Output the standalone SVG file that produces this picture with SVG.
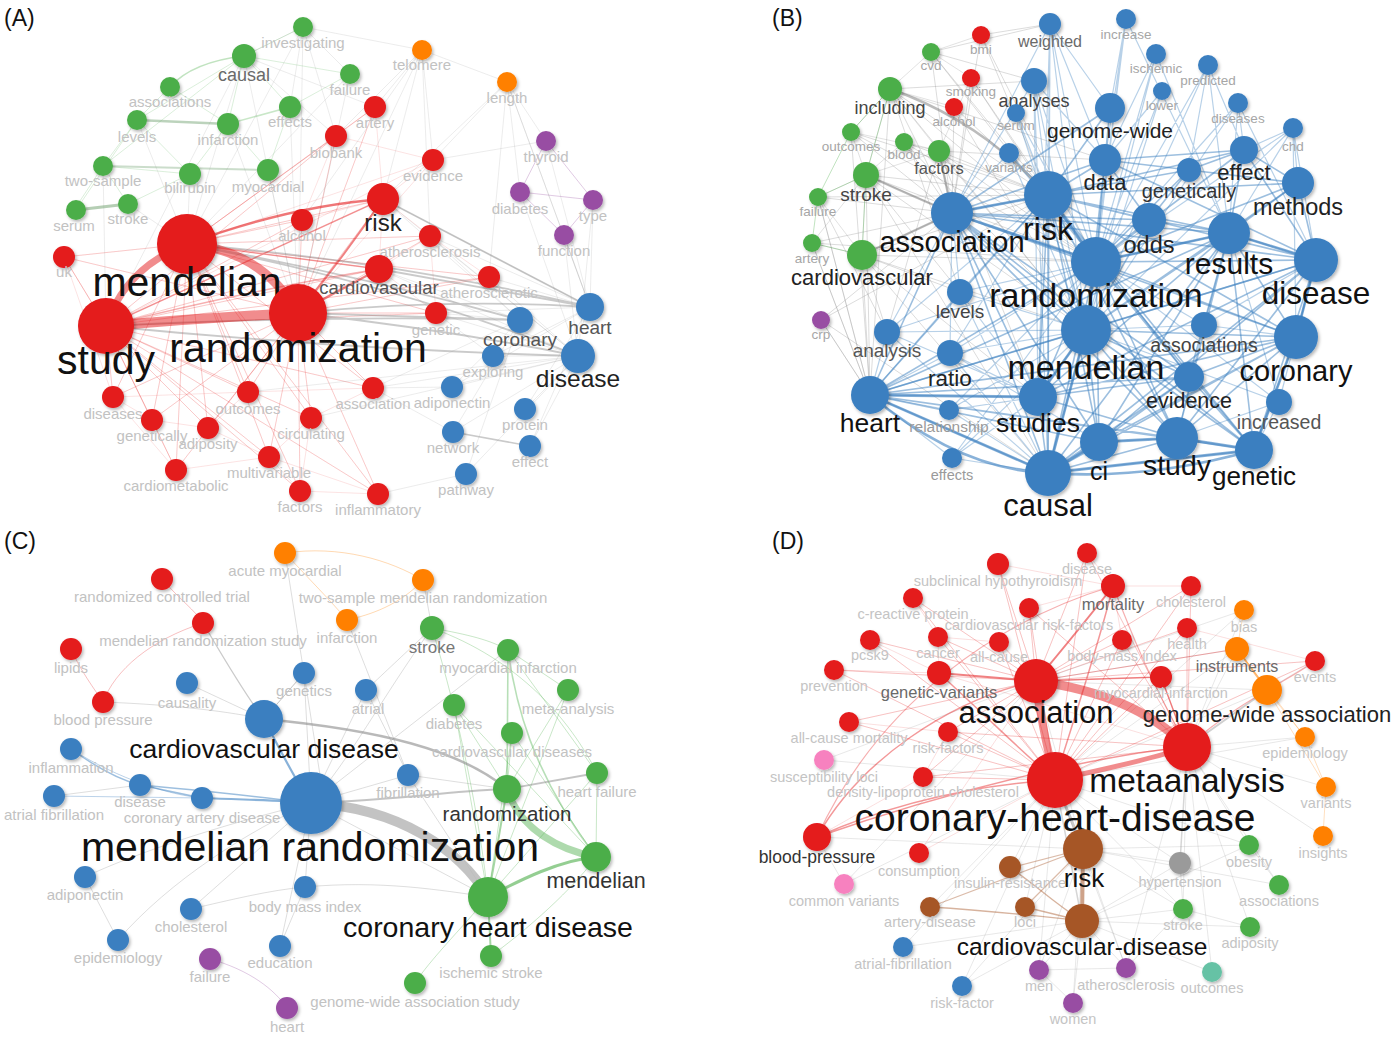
<svg xmlns="http://www.w3.org/2000/svg" width="1400" height="1039" viewBox="0 0 1400 1039">
<defs>
<filter id="sh" x="-40%" y="-40%" width="180%" height="180%"><feDropShadow dx="1.5" dy="2" stdDeviation="1.6" flood-color="#000" flood-opacity="0.28"/></filter>
</defs>
<style>
text{font-family:"Liberation Sans",Arial,Helvetica,sans-serif;text-anchor:middle}
circle{filter:url(#sh)}
.nr{fill:#e41a1c}.ng{fill:#4cae4a}.nb{fill:#3b7fc0}.no{fill:#ff8000}.np{fill:#984ea3}.nn{fill:#a65628}.nk{fill:#f781bf}.ny{fill:#9a9a9a}.nt{fill:#66c2a5}
.s{font-size:15px;fill:#c2c2c2}
.sb{font-size:13.5px;fill:#a6a6a6}
.sd{font-size:14.5px;fill:#c4c4c4}
.m{fill:#6a6a6a}
.k{fill:#111}
.pl{font-size:23px;fill:#111;text-anchor:start}
.fr{stroke:#e41a1c;stroke-opacity:.12;stroke-width:1}
.fa{stroke:#8a8a8a;stroke-opacity:.16;stroke-width:1}
.fg{stroke:#4cae4a;stroke-opacity:.2;stroke-width:1}
.fb{stroke:#3b7fc0;stroke-opacity:.5;stroke-width:1.6}
.fbl{stroke:#3b7fc0;stroke-opacity:.36;stroke-width:1.2}
.fo{stroke:#ff8000;stroke-opacity:.25;stroke-width:1}
.fp{stroke:#984ea3;stroke-opacity:.3;stroke-width:1}
.fn{stroke:#a65628;stroke-opacity:.4;stroke-width:1.2}
</style>
<rect width="1400" height="1039" fill="#fff"/>
<text class="pl" x="4" y="26">(A)</text>
<text class="pl" x="772" y="26">(B)</text>
<text class="pl" x="4" y="549">(C)</text>
<text class="pl" x="772" y="549">(D)</text>
<g id="connectors" fill="none" stroke-linecap="round" stroke-linejoin="round">
<g id="A-edges">
<path class="fr" d="M187,244L383,199L187,244L302,220L187,244L430,236L187,244L64,257L187,244L379,269L187,244L489,277L187,244L436,313L187,244L113,397L187,244L248,392L187,244L373,388L187,244L152,420L187,244L208,428L187,244L311,418L187,244L269,457L187,244L176,470L187,244L300,491L187,244L378,494L187,244L375,107L187,244L336,136L187,244L433,160"/>
<path class="fr" d="M106,326L383,199L106,326L302,220L106,326L430,236L106,326L64,257L106,326L379,269L106,326L489,277L106,326L436,313L106,326L113,397L106,326L248,392L106,326L373,388L106,326L152,420L106,326L208,428L106,326L311,418L106,326L269,457L106,326L176,470L106,326L300,491L106,326L378,494L106,326L336,136L106,326L433,160"/>
<path class="fr" d="M298,313L383,199L298,313L302,220L298,313L430,236L298,313L64,257L298,313L489,277L298,313L436,313L298,313L113,397L298,313L248,392L298,313L373,388L298,313L152,420L298,313L208,428L298,313L311,418L298,313L269,457L298,313L176,470L298,313L300,491L298,313L378,494L298,313L375,107L298,313L336,136L298,313L433,160"/>
<path class="fr" d="M113,397L152,420L176,470L269,457L300,491L378,494L269,457L311,418L373,388L248,392L113,397L176,470M152,420L208,428L248,392M208,428L269,457M302,220L383,199L375,107L336,136L302,220M383,199L433,160L336,136M383,199L430,236L379,269L383,199M64,257L113,397M64,257L106,326M311,418L300,491M379,269L436,313L430,236L489,277"/>
<path class="fa" d="M578,356L383,199M578,356L379,269M578,356L436,313M578,356L373,388M578,356L311,418M578,356L248,392M578,356L493,356M578,356L452,387M578,356L525,409M578,356L453,432M578,356L530,446M578,356L466,474M578,356L489,277M578,356L430,236M578,356L564,235M578,356L520,192M578,356L593,200M590,307L383,199M590,307L430,236M590,307L489,277M590,307L436,313M590,307L493,356M590,307L452,387M590,307L525,409M590,307L530,446M590,307L564,235M590,307L593,200M590,307L546,141M590,307L507,82M520,320L383,199M520,320L436,313M520,320L373,388M520,320L452,387M520,320L453,432M520,320L466,474M520,320L430,236M520,320L379,269"/>
<path class="fa" d="M422,50L375,107M422,50L336,136M422,50L433,160M422,50L383,199M422,50L298,313M422,50L430,236M422,50L302,220M507,82L433,160M507,82L383,199M507,82L546,141M507,82L520,192M507,82L489,277M507,82L590,307M546,141L433,160M303,27L244,56M303,27L350,74M303,27L290,107M303,27L336,136M303,27L187,244M303,27L298,313M303,27L422,50M244,56L187,244M244,56L298,313M244,56L336,136M244,56L375,107M244,56L106,326M350,74L298,313M350,74L187,244M422,50L507,82M290,107L298,313M228,124L298,313M268,170L298,313M190,174L187,244M128,204L187,244M137,120L187,244M103,166L106,326M452,387L373,388M493,356L436,313M466,474L378,494M453,432L373,388"/>
<path class="fp" d="M520,192L593,200L564,235L520,192L546,141M593,200L546,141"/>
<path class="fg" d="M244,56L137,120M244,56L228,124M244,56L103,166M137,120L103,166M103,166L190,174M228,124L190,174M170,87L137,120M290,107L268,170M128,204L103,166M74,210L103,166M128,204L190,174M303,27L244,56M350,74L244,56M350,74L290,107M170,87L228,124M244,56L290,107M228,124L268,170M137,120L190,174M76,210L137,120"/>
<path d="M137,120L228,124" stroke="#6b9e6a" stroke-opacity=".45" stroke-width="2.5"/>
<path d="M103,166L268,170" stroke="#6b9e6a" stroke-opacity=".35" stroke-width="2"/>
<path d="M76,210L128,204" stroke="#6b9e6a" stroke-opacity=".5" stroke-width="3"/>
<path d="M244,56Q192,62 170,87" stroke="#4cae4a" stroke-opacity=".35" stroke-width="1.5"/>
<path d="M228,124L290,107" stroke="#4cae4a" stroke-opacity=".3" stroke-width="1.5"/>
<path d="M187,244Q400,262 590,307M187,244Q400,285 578,356M187,244Q360,275 520,320M298,313Q450,298 590,307M298,313Q450,330 578,356M298,313L520,320M106,326Q350,350 578,356M106,326Q320,315 520,320M379,269L590,307M383,199L590,307" stroke="#7a7a7a" stroke-opacity=".4" stroke-width="1.8"/>
<path d="M453,432L530,446" stroke="#8a8a8a" stroke-opacity=".45" stroke-width="1.5"/>
<path d="M187,244Q290,206 383,199" stroke="#e41a1c" stroke-opacity=".6" stroke-width="2.5"/>
<path d="M298,313Q345,255 383,199" stroke="#e41a1c" stroke-opacity=".55" stroke-width="2"/>
<path d="M106,326Q250,260 383,199M106,326Q250,290 379,269M187,244L379,269" stroke="#e41a1c" stroke-opacity=".35" stroke-width="1.5"/>
<path d="M298,313L379,269" stroke="#e41a1c" stroke-opacity=".55" stroke-width="2"/>
<path d="M187,244Q262,250 298,313" stroke="#e41a1c" stroke-opacity=".5" stroke-width="9"/>
<path d="M187,244Q125,268 106,326" stroke="#e41a1c" stroke-opacity=".5" stroke-width="7"/>
<path d="M106,326Q200,318 298,313" stroke="#e41a1c" stroke-opacity=".5" stroke-width="10"/>
</g>
<g id="B-edges">
<path class="fa" style="stroke-opacity:.3" d="M890,89L1048,195M890,89L952,213M890,89L1096,262M890,89L1086,330M890,89L1034,81M890,89L870,395M931,52L1048,195M931,52L952,213M931,52L1096,262M931,52L1034,81M851,132L952,213M851,132L1048,195M851,132L1096,262M851,132L870,395M904,142L952,213M904,142L1048,195M904,142L1096,262M904,142L1086,330M939,151L952,213M939,151L1048,195M939,151L1096,262M939,151L1086,330M939,151L1038,397M866,175L952,213M866,175L1048,195M866,175L1096,262M866,175L1086,330M866,175L870,395M866,175L1048,473M818,197L952,213M818,197L1048,195M818,197L870,395M812,243L952,213M812,243L1096,262M812,243L870,395M862,255L952,213M862,255L1048,195M862,255L1096,262M862,255L1086,330M862,255L870,395M862,255L1038,397M862,255L1048,473M981,35L1048,195M981,35L952,213M981,35L1096,262M971,78L1048,195M971,78L952,213M971,78L1096,262M954,107L952,213M954,107L1048,195M954,107L1086,330M821,320L870,395M821,320L952,213M821,320L1048,195M821,320L1048,473M890,89L960,292M866,175L960,292M862,255L887,332M862,255L960,292M939,151L887,332M818,197L887,332M931,52L1050,24M981,35L1050,24M890,89L1105,160M939,151L1105,160"/>
<path class="fa" style="stroke-opacity:.25" d="M890,89L866,175L862,255M890,89L939,151L866,175M931,52L890,89L851,132L866,175M904,142L866,175M818,197L862,255L812,243L866,175M818,197L866,175M931,52L981,35M931,52L971,78M890,89L954,107M821,320L870,395M812,243L870,395M818,197L870,395M851,132L939,151M904,142L939,151M971,78L939,151"/>
<path d="M866,175Q910,195 952,213M862,255Q905,235 952,213M939,151L952,213M890,89Q980,120 1048,195" stroke="#7a7a7a" stroke-opacity=".5" stroke-width="2.4"/>
<path class="fg" style="stroke-opacity:.35" d="M890,89L851,132M890,89L866,175M818,197L866,175M812,243L862,255M866,175L862,255M851,132L818,197M818,197L812,243"/>
<path class="fb" d="M1048,195L952,213L1048,195L1096,262L1048,195L1086,330L1048,195L1229,233L1048,195L1316,260L1048,195L1296,337L1048,195L1048,473L1048,195L870,395L1048,195L1038,397L1048,195L1099,442L1048,195L1177,438L1048,195L1254,450L1048,195L1105,160L1048,195L1149,220L1048,195L1298,183L1048,195L1244,150L1048,195L1189,170L1048,195L1189,377L1048,195L1110,108"/>
<path class="fb" d="M952,213L1096,262L952,213L1086,330L952,213L1229,233L952,213L1316,260L952,213L1296,337L952,213L1048,473L952,213L870,395L952,213L1038,397L952,213L1099,442L952,213L1177,438L952,213L1254,450L952,213L1105,160L952,213L1149,220L952,213L1189,377L952,213L1110,108"/>
<path class="fb" d="M1096,262L1086,330L1096,262L1229,233L1096,262L1316,260L1096,262L1296,337L1096,262L1048,473L1096,262L870,395L1096,262L1038,397L1096,262L1099,442L1096,262L1177,438L1096,262L1254,450L1096,262L1105,160L1096,262L1149,220L1096,262L1298,183L1096,262L1244,150L1096,262L1189,170L1096,262L1189,377"/>
<path class="fb" d="M1086,330L1229,233L1086,330L1316,260L1086,330L1296,337L1086,330L1048,473L1086,330L870,395L1086,330L1038,397L1086,330L1099,442L1086,330L1177,438L1086,330L1254,450L1086,330L1105,160L1086,330L1149,220L1086,330L1298,183L1086,330L1189,377"/>
<path class="fb" d="M1229,233L1316,260L1229,233L1296,337L1229,233L1048,473L1229,233L870,395L1229,233L1038,397L1229,233L1099,442L1229,233L1177,438L1229,233L1254,450L1229,233L1298,183L1229,233L1244,150L1229,233L1189,377"/>
<path class="fb" d="M1316,260L1296,337L1316,260L1048,473L1316,260L870,395L1316,260L1038,397L1316,260L1099,442L1316,260L1177,438L1316,260L1254,450L1316,260L1298,183L1316,260L1244,150L1316,260L1105,160"/>
<path class="fb" d="M1296,337L1048,473L1296,337L870,395L1296,337L1099,442L1296,337L1177,438L1296,337L1254,450L1296,337L1189,377L1296,337L1038,397M1048,473L870,395L1048,473L1038,397L1048,473L1099,442L1048,473L1177,438L1048,473L1254,450L1048,473L1189,377M870,395L1038,397L870,395L1099,442L870,395L1177,438L870,395L1254,450L870,395L1189,377M1177,438L1254,450L1177,438L1099,442L1177,438L1038,397"/>
<path class="fb" d="M1105,160L1149,220L1105,160L1189,170L1105,160L1244,150L1105,160L1110,108M1149,220L1229,233L1149,220L1189,170M1244,150L1298,183L1244,150L1189,170M1189,170L1298,183M1189,377L1254,450M1189,377L1099,442M1189,377L1038,397"/>
<path class="fbl" d="M1050,24L1048,195M1050,24L1096,262M1050,24L1086,330M1050,24L1105,160M1050,24L1110,108M1050,24L952,213M1050,24L1038,397M1050,24L1048,473M1126,19L1110,108M1126,19L1105,160M1126,19L1096,262M1126,19L1086,330M1126,19L1229,233M1156,54L1096,262M1156,54L1086,330M1156,54L1229,233M1156,54L1105,160M1208,65L1096,262M1208,65L1086,330M1208,65L1229,233M1208,65L1244,150M1208,65L1189,170M1034,81L1048,195M1034,81L1096,262M1034,81L1086,330M1034,81L952,213M1034,81L1105,160M1034,81L1048,473M1034,81L1038,397M1162,91L1096,262M1162,91L1086,330M1162,91L1105,160M1016,113L1048,195M1016,113L1096,262M1016,113L1086,330M1238,103L1096,262M1238,103L1086,330M1238,103L1229,233M1238,103L1316,260M1238,103L1244,150M1009,153L1048,195M1009,153L1096,262M1009,153L1086,330M1009,153L952,213M1293,128L1229,233M1293,128L1316,260M1293,128L1298,183M1293,128L1244,150M1293,128L1096,262M1293,128L1086,330M1293,128L1296,337"/>
<path class="fbl" d="M960,292L952,213M960,292L1048,195M960,292L1096,262M960,292L1086,330M960,292L1038,397M960,292L870,395M960,292L1048,473M887,332L952,213M887,332L1048,195M887,332L1096,262M887,332L1086,330M887,332L870,395M887,332L1038,397M887,332L1048,473M1204,325L1096,262M1204,325L1086,330M1204,325L1229,233M1204,325L1316,260M1204,325L1296,337M1204,325L1177,438M950,353L952,213M950,353L1048,195M950,353L1096,262M950,353L1086,330M950,353L870,395M950,353L1038,397M950,353L1048,473M950,353L1099,442M949,410L870,395M949,410L1038,397M949,410L1048,473M949,410L1086,330M949,410L1096,262M1279,402L1316,260M1279,402L1296,337M1279,402L1254,450M1279,402L1177,438M1279,402L1229,233M1279,402L1086,330M1279,402L1096,262M952,458L870,395M952,458L1038,397M952,458L1048,473M952,458L1086,330M952,458L1096,262M870,395L952,458L1048,473"/>
<path d="M1048,195L1096,262M1048,195L952,213M1096,262L1086,330M1086,330L1038,397M1086,330L1048,473M1096,262L1229,233M1229,233L1316,260M1316,260L1296,337M1048,473L1099,442M1099,442L1177,438M1177,438L1254,450M870,395L1048,473M870,395L1038,397M952,213L1096,262M1296,337L1254,450M1048,473L1254,450M870,395Q960,470 1048,473M1048,473Q1150,480 1254,450" stroke="#3b7fc0" stroke-opacity=".6" stroke-width="2.8"/>
</g>
<g id="C-edges">
<path d="M162,579C180,600 195,610 203,623M203,623C150,640 115,670 103,702M71,649C80,670 95,690 103,702" stroke="#e41a1c" stroke-opacity=".28" stroke-width="1"/>
<path d="M285,553C340,545 390,560 423,580M285,553C310,580 330,600 347,620M423,580C400,605 370,615 347,620" stroke="#ff8000" stroke-opacity=".3" stroke-width="1"/>
<path class="fa" style="stroke-opacity:.28" d="M285,553L320,775M347,620L408,775M423,580L432,628M432,628L366,690M432,628C380,700 350,760 311,803M408,775L311,803M408,775L507,789M187,683L264,719M304,673L264,719M304,673L311,803M366,690L311,803M366,690L408,775M103,702C180,705 230,712 264,719M311,803C200,830 120,860 85,877M85,877L118,940M118,940C170,880 250,830 311,803M191,909L311,803M191,909C230,900 270,890 305,887M305,887L311,803M305,887C380,880 440,890 488,897M280,946L305,887M280,946L311,803M488,897L408,775M488,897L311,803M311,803L507,650M264,719L304,673M54,796L140,785"/>
<path d="M203,623C225,660 245,695 264,719" stroke="#8a8a8a" stroke-opacity=".45" stroke-width="1.3"/>
<path class="fg" style="stroke-opacity:.3" d="M432,628C470,635 490,640 508,650M432,628C460,720 480,820 488,897M432,628C520,660 570,720 597,773M508,650L568,690M508,650L597,773M568,690L507,789M568,690L488,897M454,705L488,897M454,705L507,789M512,733L507,789M512,733L596,857M597,773L596,857M597,773L488,897M488,897C460,930 430,960 415,983M491,956C540,920 580,880 596,857M454,705L596,857M512,733L488,897"/>
<path d="M508,650L507,789M508,650C515,700 530,770 596,857" stroke="#4cae4a" stroke-opacity=".4" stroke-width="1.6"/>
<path d="M210,959C250,970 275,990 287,1008" stroke="#984ea3" stroke-opacity=".3" stroke-width="1"/>
<path d="M71,749C120,780 170,795 202,798M54,796L202,798" stroke="#3b7fc0" stroke-opacity=".35" stroke-width="1"/>
<path d="M71,749C100,770 120,780 140,785M140,785C200,790 260,797 311,803M140,785L202,798" stroke="#3b7fc0" stroke-opacity=".5" stroke-width="1.5"/>
<path d="M202,798C250,800 280,800 311,803M264,719C280,750 295,780 311,803" stroke="#3b7fc0" stroke-opacity=".6" stroke-width="2.2"/>
<path d="M264,719C380,730 460,750 507,789" stroke="#8a8a8a" stroke-opacity=".6" stroke-width="2.5"/>
<path d="M311,803C400,800 460,790 507,789M507,789L597,773" stroke="#8a8a8a" stroke-opacity=".5" stroke-width="1.8"/>
<path d="M311,803C400,808 460,850 488,897" stroke="#b8b8b8" stroke-opacity=".85" stroke-width="10"/>
<path d="M488,897L491,956" stroke="#4cae4a" stroke-opacity=".5" stroke-width="2"/>
<path d="M507,789C500,830 495,860 488,897" stroke="#4cae4a" stroke-opacity=".5" stroke-width="2"/>
<path d="M596,857C560,860 520,880 488,897" stroke="#4cae4a" stroke-opacity=".6" stroke-width="3"/>
<path d="M507,789C520,830 560,850 596,857" stroke="#4cae4a" stroke-opacity=".45" stroke-width="7"/>
</g>
<g id="D-edges">
<path class="fr" style="stroke-opacity:.14" d="M1036,681L1087,553L1036,681L998,564L1036,681L1191,586L1036,681L913,598L1036,681L1029,608L1036,681L870,640L1036,681L938,637L1036,681L999,642L1036,681L1122,640L1036,681L1187,628L1036,681L1315,661L1036,681L834,670L1036,681L1161,677L1036,681L849,722L1036,681L948,732L1036,681L923,777L1036,681L919,853"/>
<path class="fr" style="stroke-opacity:.14" d="M1055,780L1087,553L1055,780L998,564L1055,780L1191,586L1055,780L913,598L1055,780L1029,608L1055,780L870,640L1055,780L938,637L1055,780L999,642L1055,780L1122,640L1055,780L1187,628L1055,780L1315,661L1055,780L834,670L1055,780L1161,677L1055,780L849,722L1055,780L948,732L1055,780L923,777L1055,780L919,853"/>
<path class="fr" style="stroke-opacity:.14" d="M1187,747L1087,553L1187,747L1191,586L1187,747L1029,608L1187,747L1122,640L1187,747L1187,628L1187,747L1161,677L1187,747L948,732L1187,747L923,777L1187,747L939,673M913,598L938,637L939,673L870,640M834,670L939,673M998,564L1113,586L1087,553M1191,586L1113,586L1029,608M938,637L999,642M1113,586L1122,640M849,722L948,732M923,777L817,837M948,732L923,777M1187,628L1315,661"/>
<path class="fa" style="stroke-opacity:.2" d="M1055,780L1244,610M1055,780L1237,649M1055,780L1267,690M1055,780L1305,737M1055,780L1249,845M1055,780L1180,863M1055,780L1183,909M1055,780L1126,968M1055,780L1039,970M1055,780L962,986M1055,780L903,947M1055,780L844,884M1055,780L824,760M1055,780L930,907M1055,780L1025,907M1055,780L1010,868M1187,747L1244,610M1187,747L1237,649M1187,747L1305,737M1187,747L1326,787M1187,747L1323,836M1187,747L1249,845M1187,747L1279,885M1187,747L1183,909M1187,747L1250,927M1187,747L1212,972M1187,747L1126,968M1082,921L1183,909M1082,921L1180,863M1082,921L1250,927M1082,921L1212,972M1082,921L1126,968M1082,921L1039,970M1082,921L1073,1003M1082,921L903,947M1082,921L1249,845M1083,849L1180,863M1083,849L1183,909M1083,849L1279,885M1083,849L1249,845M1083,849L1039,970M1083,849L1126,968M1083,849L962,986M1036,681L1267,690M1036,681L1237,649M1036,681L1244,610M1036,681L824,760M1036,681L844,884M1036,681L1083,849M817,837L844,884M817,837L1083,849M1267,690L1315,661M1180,863L1183,909M1183,909L1250,927M1279,885L1249,845M1183,909L1126,968M1039,970L1073,1003M1126,968L1039,970M1083,849L1073,1003M962,986L1082,921"/>
<path class="fo" d="M1244,610L1237,649M1267,690L1305,737M1305,737L1326,787M1326,787L1323,836M1267,690L1326,787M1237,649L1305,737"/>
<path class="fn" d="M1083,849L1025,907M1083,849L930,907M1083,849L1010,868"/>
<path d="M1082,921C1030,915 980,910 930,907M1082,921L1025,907M1082,921C1050,900 1030,880 1010,868" stroke="#a65628" stroke-opacity=".45" stroke-width="1.3"/>
<path d="M1187,747L1180,863M1055,780L1082,921" stroke="#8a8a8a" stroke-opacity=".35" stroke-width="1.5"/>
<path d="M1187,747L1267,690" stroke="#8a8a8a" stroke-opacity=".4" stroke-width="2"/>
<path d="M1237,649L1267,690" stroke="#ff8000" stroke-opacity=".55" stroke-width="2"/>
<path d="M817,837C880,700 1000,620 1113,586M1187,747C1150,680 1130,630 1113,586M1187,747C1240,700 1290,680 1315,661M1036,681L1237,649" stroke="#e41a1c" stroke-opacity=".35" stroke-width="1.2"/>
<path d="M817,837C900,800 980,785 1055,780M817,837C860,760 950,700 1036,681M817,837C950,790 1100,755 1187,747M939,673C990,720 1020,750 1055,780M1055,780C1080,700 1100,640 1113,586M1036,681L1161,677M1187,747L1161,677" stroke="#e41a1c" stroke-opacity=".45" stroke-width="1.5"/>
<path d="M939,673L1036,681M1036,681C1070,640 1095,610 1113,586" stroke="#e41a1c" stroke-opacity=".55" stroke-width="2"/>
<path d="M1055,780L1083,849" stroke="#8a8a8a" stroke-opacity=".45" stroke-width="3"/>
<path d="M1083,849L1082,921" stroke="#a65628" stroke-opacity=".55" stroke-width="4"/>
<path d="M1055,780C1100,770 1150,760 1187,747" stroke="#e41a1c" stroke-opacity=".5" stroke-width="5"/>
<path d="M1036,681C1040,720 1048,750 1055,780" stroke="#e41a1c" stroke-opacity=".5" stroke-width="8"/>
<path d="M1036,681C1100,690 1150,710 1187,747" stroke="#e41a1c" stroke-opacity=".5" stroke-width="9"/>
</g>
</g>
<g id="A-nodes">
<g id="A-investigating"><circle class="ng" cx="303" cy="27" r="10"/><text class="s" x="303" y="48">investigating</text></g>
<g id="A-causal"><circle class="ng" cx="244" cy="56" r="12"/><text class="m" font-size="18" x="244" y="81">causal</text></g>
<g id="A-telomere"><circle class="no" cx="422" cy="50" r="10"/><text class="s" x="422" y="70">telomere</text></g>
<g id="A-failure"><circle class="ng" cx="350" cy="74" r="10"/><text class="s" x="350" y="95">failure</text></g>
<g id="A-length"><circle class="no" cx="507" cy="82" r="10"/><text class="s" x="507" y="103">length</text></g>
<g id="A-associations"><circle class="ng" cx="170" cy="87" r="10"/><text class="s" x="170" y="107">associations</text></g>
<g id="A-effects"><circle class="ng" cx="290" cy="107" r="11"/><text class="s" x="290" y="127">effects</text></g>
<g id="A-artery"><circle class="nr" cx="375" cy="107" r="11"/><text class="s" x="375" y="128">artery</text></g>
<g id="A-levels"><circle class="ng" cx="137" cy="120" r="10"/><text class="s" x="137" y="142">levels</text></g>
<g id="A-infarction"><circle class="ng" cx="228" cy="124" r="11"/><text class="s" x="228" y="145">infarction</text></g>
<g id="A-biobank"><circle class="nr" cx="336" cy="136" r="11"/><text class="s" x="336" y="158">biobank</text></g>
<g id="A-thyroid"><circle class="np" cx="546" cy="141" r="10"/><text class="s" x="546" y="162">thyroid</text></g>
<g id="A-evidence"><circle class="nr" cx="433" cy="160" r="11"/><text class="s" x="433" y="181">evidence</text></g>
<g id="A-two-sample"><circle class="ng" cx="103" cy="166" r="10"/><text class="s" x="103" y="186">two-sample</text></g>
<g id="A-bilirubin"><circle class="ng" cx="190" cy="174" r="11"/><text class="s" x="190" y="193">bilirubin</text></g>
<g id="A-myocardial"><circle class="ng" cx="268" cy="170" r="11"/><text class="s" x="268" y="192">myocardial</text></g>
<g id="A-diabetes"><circle class="np" cx="520" cy="192" r="10"/><text class="s" x="520" y="214">diabetes</text></g>
<g id="A-type"><circle class="np" cx="593" cy="200" r="10"/><text class="s" x="593" y="221">type</text></g>
<g id="A-serum"><circle class="ng" cx="76" cy="210" r="10"/><text class="s" x="74" y="231">serum</text></g>
<g id="A-stroke"><circle class="ng" cx="128" cy="204" r="10"/><text class="s" x="128" y="224">stroke</text></g>
<g id="A-risk"><circle class="nr" cx="383" cy="199" r="16"/><text fill="#222" font-size="24" x="383" y="231">risk</text></g>
<g id="A-alcohol"><circle class="nr" cx="302" cy="220" r="11"/><text class="s" x="302" y="241">alcohol</text></g>
<g id="A-function"><circle class="np" cx="564" cy="235" r="10"/><text class="s" x="564" y="256">function</text></g>
<g id="A-atherosclerosis"><circle class="nr" cx="430" cy="236" r="11"/><text class="s" x="430" y="257">atherosclerosis</text></g>
<g id="A-mendelian"><circle class="nr" cx="187" cy="244" r="30"/><text class="k" font-size="41" x="187" y="296">mendelian</text></g>
<g id="A-uk"><circle class="nr" cx="64" cy="257" r="11"/><text class="s" x="64" y="277">uk</text></g>
<g id="A-cardiovascular"><circle class="nr" cx="379" cy="269" r="14"/><text fill="#555" font-size="18.5" x="379" y="294">cardiovascular</text></g>
<g id="A-atherosclerotic"><circle class="nr" cx="489" cy="277" r="11"/><text class="s" x="489" y="298">atherosclerotic</text></g>
<g id="A-heart"><circle class="nb" cx="590" cy="307" r="14"/><text fill="#555" font-size="19" x="590" y="334">heart</text></g>
<g id="A-genetic"><circle class="nr" cx="436" cy="313" r="11"/><text class="s" x="436" y="335">genetic</text></g>
<g id="A-coronary"><circle class="nb" cx="520" cy="320" r="13"/><text fill="#555" font-size="19" x="520" y="346">coronary</text></g>
<g id="A-study"><circle class="nr" cx="106" cy="326" r="28"/><text class="k" font-size="41" x="106" y="374">study</text></g>
<g id="A-randomization"><circle class="nr" cx="298" cy="313" r="29"/><text class="k" font-size="41" x="298" y="362">randomization</text></g>
<g id="A-disease"><circle class="nb" cx="578" cy="356" r="17"/><text fill="#222" font-size="24.5" x="578" y="387">disease</text></g>
<g id="A-exploring"><circle class="nb" cx="493" cy="356" r="11"/><text class="s" x="493" y="377">exploring</text></g>
<g id="A-diseases"><circle class="nr" cx="113" cy="397" r="11"/><text class="s" x="113" y="419">diseases</text></g>
<g id="A-outcomes"><circle class="nr" cx="248" cy="392" r="11"/><text class="s" x="248" y="414">outcomes</text></g>
<g id="A-association"><circle class="nr" cx="373" cy="388" r="11"/><text class="s" x="373" y="409">association</text></g>
<g id="A-adiponectin"><circle class="nb" cx="452" cy="387" r="11"/><text class="s" x="452" y="408">adiponectin</text></g>
<g id="A-protein"><circle class="nb" cx="525" cy="409" r="11"/><text class="s" x="525" y="430">protein</text></g>
<g id="A-genetically"><circle class="nr" cx="152" cy="420" r="11"/><text class="s" x="152" y="441">genetically</text></g>
<g id="A-adiposity"><circle class="nr" cx="208" cy="428" r="11"/><text class="s" x="208" y="449">adiposity</text></g>
<g id="A-circulating"><circle class="nr" cx="311" cy="418" r="11"/><text class="s" x="311" y="439">circulating</text></g>
<g id="A-network"><circle class="nb" cx="453" cy="432" r="11"/><text class="s" x="453" y="453">network</text></g>
<g id="A-effect"><circle class="nb" cx="530" cy="446" r="11"/><text class="s" x="530" y="467">effect</text></g>
<g id="A-multivariable"><circle class="nr" cx="269" cy="457" r="11"/><text class="s" x="269" y="478">multivariable</text></g>
<g id="A-cardiometabolic"><circle class="nr" cx="176" cy="470" r="11"/><text class="s" x="176" y="491">cardiometabolic</text></g>
<g id="A-factors"><circle class="nr" cx="300" cy="491" r="11"/><text class="s" x="300" y="512">factors</text></g>
<g id="A-inflammatory"><circle class="nr" cx="378" cy="494" r="11"/><text class="s" x="378" y="515">inflammatory</text></g>
<g id="A-pathway"><circle class="nb" cx="466" cy="474" r="11"/><text class="s" x="466" y="495">pathway</text></g>
</g>
<g id="B-nodes">
<g id="B-weighted"><circle class="nb" cx="1050" cy="24" r="11"/><text class="m" font-size="16" x="1050" y="47">weighted</text></g>
<g id="B-increase"><circle class="nb" cx="1126" cy="19" r="10"/><text class="sb" x="1126" y="39">increase</text></g>
<g id="B-bmi"><circle class="nr" cx="981" cy="35" r="9"/><text class="sb" x="981" y="54">bmi</text></g>
<g id="B-cvd"><circle class="ng" cx="931" cy="52" r="9"/><text class="sb" x="931" y="70">cvd</text></g>
<g id="B-ischemic"><circle class="nb" cx="1156" cy="54" r="10"/><text class="sb" x="1156" y="73">ischemic</text></g>
<g id="B-predicted"><circle class="nb" cx="1208" cy="65" r="10"/><text class="sb" x="1208" y="85">predicted</text></g>
<g id="B-smoking"><circle class="nr" cx="971" cy="78" r="9"/><text class="sb" x="971" y="96">smoking</text></g>
<g id="B-analyses"><circle class="nb" cx="1034" cy="81" r="13"/><text fill="#444" font-size="18" x="1034" y="107">analyses</text></g>
<g id="B-lower"><circle class="nb" cx="1162" cy="91" r="9"/><text class="sb" x="1162" y="110">lower</text></g>
<g id="B-including"><circle class="ng" cx="890" cy="89" r="12"/><text fill="#444" font-size="18" x="890" y="114">including</text></g>
<g id="B-alcohol"><circle class="nr" cx="954" cy="107" r="9"/><text class="sb" x="954" y="126">alcohol</text></g>
<g id="B-serum"><circle class="nb" cx="1016" cy="113" r="9"/><text class="sb" x="1016" y="130">serum</text></g>
<g id="B-genome-wide"><circle class="nb" cx="1110" cy="108" r="15"/><text fill="#222" font-size="21" x="1110" y="138">genome-wide</text></g>
<g id="B-diseases"><circle class="nb" cx="1238" cy="103" r="10"/><text class="sb" x="1238" y="123">diseases</text></g>
<g id="B-outcomes"><circle class="ng" cx="851" cy="132" r="9"/><text class="sb" x="851" y="151">outcomes</text></g>
<g id="B-blood"><circle class="ng" cx="904" cy="142" r="9"/><text class="sb" x="904" y="159">blood</text></g>
<g id="B-factors"><circle class="ng" cx="939" cy="151" r="11"/><text fill="#555" font-size="16.5" x="939" y="174">factors</text></g>
<g id="B-variants"><circle class="nb" cx="1009" cy="153" r="10"/><text class="sb" x="1009" y="172">variants</text></g>
<g id="B-chd"><circle class="nb" cx="1293" cy="128" r="10"/><text class="sb" x="1293" y="151">chd</text></g>
<g id="B-data"><circle class="nb" cx="1105" cy="160" r="16"/><text fill="#222" font-size="22" x="1105" y="190">data</text></g>
<g id="B-effect"><circle class="nb" cx="1244" cy="150" r="14"/><text fill="#222" font-size="22" x="1244" y="180">effect</text></g>
<g id="B-genetically"><circle class="nb" cx="1189" cy="170" r="12"/><text fill="#333" font-size="20" x="1189" y="198">genetically</text></g>
<g id="B-stroke"><circle class="ng" cx="866" cy="175" r="13"/><text fill="#444" font-size="19" x="866" y="201">stroke</text></g>
<g id="B-methods"><circle class="nb" cx="1298" cy="183" r="16"/><text fill="#222" font-size="23.5" x="1298" y="215">methods</text></g>
<g id="B-risk"><circle class="nb" cx="1048" cy="195" r="24"/><text class="k" font-size="32" x="1048" y="240">risk</text></g>
<g id="B-failure"><circle class="ng" cx="818" cy="197" r="9"/><text class="sb" x="818" y="216">failure</text></g>
<g id="B-association"><circle class="nb" cx="952" cy="213" r="21"/><text class="k" font-size="29" x="952" y="252">association</text></g>
<g id="B-odds"><circle class="nb" cx="1149" cy="220" r="17"/><text fill="#222" font-size="23.5" x="1149" y="253">odds</text></g>
<g id="B-results"><circle class="nb" cx="1229" cy="233" r="21"/><text class="k" font-size="30" x="1229" y="274">results</text></g>
<g id="B-artery"><circle class="ng" cx="812" cy="243" r="9"/><text class="sb" x="812" y="263">artery</text></g>
<g id="B-cardiovascular"><circle class="ng" cx="862" cy="255" r="15"/><text fill="#222" font-size="22" x="862" y="285">cardiovascular</text></g>
<g id="B-disease"><circle class="nb" cx="1316" cy="260" r="22"/><text class="k" font-size="31.5" x="1316" y="304">disease</text></g>
<g id="B-randomization"><circle class="nb" cx="1096" cy="262" r="25"/><text class="k" font-size="34" x="1096" y="307">randomization</text></g>
<g id="B-levels"><circle class="nb" cx="960" cy="292" r="13"/><text fill="#444" font-size="19" x="960" y="318">levels</text></g>
<g id="B-crp"><circle class="np" cx="821" cy="320" r="9"/><text class="sb" x="821" y="339">crp</text></g>
<g id="B-analysis"><circle class="nb" cx="887" cy="332" r="13"/><text fill="#555" font-size="19" x="887" y="357">analysis</text></g>
<g id="B-mendelian"><circle class="nb" cx="1086" cy="330" r="25"/><text class="k" font-size="34" x="1086" y="379">mendelian</text></g>
<g id="B-associations"><circle class="nb" cx="1204" cy="325" r="13"/><text fill="#444" font-size="19.5" x="1204" y="352">associations</text></g>
<g id="B-coronary"><circle class="nb" cx="1296" cy="337" r="22"/><text class="k" font-size="29" x="1296" y="381">coronary</text></g>
<g id="B-ratio"><circle class="nb" cx="950" cy="353" r="13"/><text fill="#222" font-size="22.5" x="950" y="386">ratio</text></g>
<g id="B-evidence"><circle class="nb" cx="1189" cy="377" r="15"/><text fill="#222" font-size="21.5" x="1189" y="408">evidence</text></g>
<g id="B-heart"><circle class="nb" cx="870" cy="395" r="19"/><text class="k" font-size="26.5" x="870" y="432">heart</text></g>
<g id="B-relationship"><circle class="nb" cx="949" cy="410" r="10"/><text class="sb" style="font-size:15.5px;fill:#9a9a9a" x="949" y="432">relationship</text></g>
<g id="B-studies"><circle class="nb" cx="1038" cy="397" r="19"/><text class="k" font-size="26.5" x="1038" y="432">studies</text></g>
<g id="B-increased"><circle class="nb" cx="1279" cy="402" r="13"/><text fill="#555" font-size="19.5" x="1279" y="429">increased</text></g>
<g id="B-ci"><circle class="nb" cx="1099" cy="442" r="19"/><text class="k" font-size="25" x="1099" y="480">ci</text></g>
<g id="B-study"><circle class="nb" cx="1177" cy="438" r="21"/><text class="k" font-size="28.5" x="1177" y="475">study</text></g>
<g id="B-genetic"><circle class="nb" cx="1254" cy="450" r="19"/><text class="k" font-size="26" x="1254" y="485">genetic</text></g>
<g id="B-effects"><circle class="nb" cx="952" cy="458" r="10"/><text class="sb" style="font-size:14.5px;fill:#9a9a9a" x="952" y="480">effects</text></g>
<g id="B-causal"><circle class="nb" cx="1048" cy="473" r="23"/><text class="k" font-size="31" x="1048" y="516">causal</text></g>
</g>
<g id="C-nodes">
<g id="C-acute-myocardial"><circle class="no" cx="285" cy="553" r="11"/><text class="s" x="285" y="576">acute myocardial</text></g>
<g id="C-randomized-controlled-trial"><circle class="nr" cx="162" cy="579" r="11"/><text class="s" x="162" y="602">randomized controlled trial</text></g>
<g id="C-two-sample-mendelian-randomization"><circle class="no" cx="423" cy="580" r="11"/><text class="s" x="423" y="603">two-sample mendelian randomization</text></g>
<g id="C-mendelian-randomization-study"><circle class="nr" cx="203" cy="623" r="11"/><text class="s" x="203" y="646">mendelian randomization study</text></g>
<g id="C-infarction"><circle class="no" cx="347" cy="620" r="11"/><text class="s" x="347" y="643">infarction</text></g>
<g id="C-stroke"><circle class="ng" cx="432" cy="628" r="12"/><text fill="#777" font-size="17" x="432" y="653">stroke</text></g>
<g id="C-lipids"><circle class="nr" cx="71" cy="649" r="11"/><text class="s" x="71" y="673">lipids</text></g>
<g id="C-myocardial-infarction"><circle class="ng" cx="508" cy="650" r="11"/><text class="s" x="508" y="673">myocardial infarction</text></g>
<g id="C-genetics"><circle class="nb" cx="304" cy="673" r="11"/><text class="s" x="304" y="696">genetics</text></g>
<g id="C-causality"><circle class="nb" cx="187" cy="683" r="11"/><text class="s" x="187" y="708">causality</text></g>
<g id="C-atrial"><circle class="nb" cx="366" cy="690" r="11"/><text class="s" x="368" y="714">atrial</text></g>
<g id="C-meta-analysis"><circle class="ng" cx="568" cy="690" r="11"/><text class="s" x="568" y="714">meta-analysis</text></g>
<g id="C-blood-pressure"><circle class="nr" cx="103" cy="702" r="11"/><text class="s" x="103" y="725">blood pressure</text></g>
<g id="C-diabetes"><circle class="ng" cx="454" cy="705" r="11"/><text class="s" x="454" y="729">diabetes</text></g>
<g id="C-cardiovascular-disease"><circle class="nb" cx="264" cy="719" r="19"/><text class="k" font-size="26.5" x="264" y="758">cardiovascular disease</text></g>
<g id="C-cardiovascular-diseases"><circle class="ng" cx="512" cy="733" r="11"/><text class="s" x="512" y="757">cardiovascular diseases</text></g>
<g id="C-inflammation"><circle class="nb" cx="71" cy="749" r="11"/><text class="s" x="71" y="773">inflammation</text></g>
<g id="C-fibrillation"><circle class="nb" cx="408" cy="775" r="11"/><text class="s" x="408" y="798">fibrillation</text></g>
<g id="C-heart-failure"><circle class="ng" cx="597" cy="773" r="11"/><text class="s" x="597" y="797">heart failure</text></g>
<g id="C-disease"><circle class="nb" cx="140" cy="785" r="11"/><text class="s" x="140" y="807">disease</text></g>
<g id="C-atrial-fibrillation"><circle class="nb" cx="54" cy="796" r="11"/><text class="s" x="54" y="820">atrial fibrillation</text></g>
<g id="C-coronary-artery-disease"><circle class="nb" cx="202" cy="798" r="11"/><text class="s" x="202" y="823">coronary artery disease</text></g>
<g id="C-mendelian-randomization"><circle class="nb" cx="311" cy="803" r="31"/><text class="k" font-size="41" x="310" y="861">mendelian randomization</text></g>
<g id="C-randomization"><circle class="ng" cx="507" cy="789" r="14"/><text fill="#333" font-size="20.5" x="507" y="821">randomization</text></g>
<g id="C-mendelian"><circle class="ng" cx="596" cy="857" r="15"/><text fill="#333" font-size="21.5" x="596" y="888">mendelian</text></g>
<g id="C-adiponectin"><circle class="nb" cx="85" cy="877" r="11"/><text class="s" x="85" y="900">adiponectin</text></g>
<g id="C-coronary-heart-disease"><circle class="ng" cx="488" cy="897" r="20"/><text class="k" font-size="28.5" x="488" y="937">coronary heart disease</text></g>
<g id="C-body-mass-index"><circle class="nb" cx="305" cy="887" r="11"/><text class="s" x="305" y="912">body mass index</text></g>
<g id="C-cholesterol"><circle class="nb" cx="191" cy="909" r="11"/><text class="s" x="191" y="932">cholesterol</text></g>
<g id="C-epidemiology"><circle class="nb" cx="118" cy="940" r="11"/><text class="s" x="118" y="963">epidemiology</text></g>
<g id="C-education"><circle class="nb" cx="280" cy="946" r="11"/><text class="s" x="280" y="968">education</text></g>
<g id="C-failure"><circle class="np" cx="210" cy="959" r="11"/><text class="s" x="210" y="982">failure</text></g>
<g id="C-ischemic-stroke"><circle class="ng" cx="491" cy="956" r="11"/><text class="s" x="491" y="978">ischemic stroke</text></g>
<g id="C-genome-wide-association-study"><circle class="ng" cx="415" cy="983" r="11"/><text class="s" x="415" y="1007">genome-wide association study</text></g>
<g id="C-heart"><circle class="np" cx="287" cy="1008" r="11"/><text class="s" x="287" y="1032">heart</text></g>
</g>
<g id="D-nodes">
<g id="D-disease"><circle class="nr" cx="1087" cy="553" r="10"/><text class="sd" x="1087" y="574">disease</text></g>
<g id="D-subclinical-hypothyroidism"><circle class="nr" cx="998" cy="564" r="11"/><text class="sd" x="998" y="586">subclinical hypothyroidism</text></g>
<g id="D-mortality"><circle class="nr" cx="1113" cy="586" r="12"/><text class="m" font-size="16.5" x="1113" y="610">mortality</text></g>
<g id="D-cholesterol"><circle class="nr" cx="1191" cy="586" r="10"/><text class="sd" x="1191" y="607">cholesterol</text></g>
<g id="D-c-reactive-protein"><circle class="nr" cx="913" cy="598" r="10"/><text class="sd" x="913" y="619">c-reactive protein</text></g>
<g id="D-cardiovascular-risk-factors"><circle class="nr" cx="1029" cy="608" r="10"/><text class="sd" x="1029" y="630">cardiovascular risk-factors</text></g>
<g id="D-bias"><circle class="no" cx="1244" cy="610" r="10"/><text class="sd" x="1244" y="632">bias</text></g>
<g id="D-pcsk9"><circle class="nr" cx="870" cy="640" r="10"/><text class="sd" x="870" y="660">pcsk9</text></g>
<g id="D-cancer"><circle class="nr" cx="938" cy="637" r="10"/><text class="sd" x="938" y="658">cancer</text></g>
<g id="D-all-cause"><circle class="nr" cx="999" cy="642" r="10"/><text class="sd" x="999" y="662">all-cause</text></g>
<g id="D-body-mass-index"><circle class="nr" cx="1122" cy="640" r="10"/><text class="sd" x="1122" y="661">body-mass index</text></g>
<g id="D-health"><circle class="nr" cx="1187" cy="628" r="10"/><text class="sd" x="1187" y="649">health</text></g>
<g id="D-instruments"><circle class="no" cx="1237" cy="649" r="12"/><text class="m" font-size="16" x="1237" y="672">instruments</text></g>
<g id="D-events"><circle class="nr" cx="1315" cy="661" r="10"/><text class="sd" x="1315" y="682">events</text></g>
<g id="D-prevention"><circle class="nr" cx="834" cy="670" r="10"/><text class="sd" x="834" y="691">prevention</text></g>
<g id="D-genetic-variants"><circle class="nr" cx="939" cy="673" r="12"/><text class="m" font-size="16.5" x="939" y="698">genetic-variants</text></g>
<g id="D-association"><circle class="nr" cx="1036" cy="681" r="22"/><text class="k" font-size="31" x="1036" y="723">association</text></g>
<g id="D-myocardial-infarction"><circle class="nr" cx="1161" cy="677" r="11"/><text class="sd" x="1161" y="698">myocardial-infarction</text></g>
<g id="D-genome-wide-association"><circle class="no" cx="1267" cy="690" r="15"/><text fill="#222" font-size="22" x="1267" y="722">genome-wide association</text></g>
<g id="D-all-cause-mortality"><circle class="nr" cx="849" cy="722" r="10"/><text class="sd" x="849" y="743">all-cause mortality</text></g>
<g id="D-risk-factors"><circle class="nr" cx="948" cy="732" r="10"/><text class="sd" x="948" y="753">risk-factors</text></g>
<g id="D-metaanalysis"><circle class="nr" cx="1187" cy="747" r="24"/><text class="k" font-size="33.5" x="1187" y="792">metaanalysis</text></g>
<g id="D-epidemiology"><circle class="no" cx="1305" cy="737" r="10"/><text class="sd" x="1305" y="758">epidemiology</text></g>
<g id="D-susceptibility-loci"><circle class="nk" cx="824" cy="760" r="10"/><text class="sd" x="824" y="782">susceptibility loci</text></g>
<g id="D-coronary-heart-disease"><circle class="nr" cx="1055" cy="780" r="28"/><text class="k" font-size="39" x="1055" y="831">coronary-heart-disease</text></g>
<g id="D-density-lipoprotein-cholesterol"><circle class="nr" cx="923" cy="777" r="10"/><text class="sd" x="923" y="797">density-lipoprotein cholesterol</text></g>
<g id="D-variants"><circle class="no" cx="1326" cy="787" r="10"/><text class="sd" x="1326" y="808">variants</text></g>
<g id="D-blood-pressure"><circle class="nr" cx="817" cy="837" r="14"/><text fill="#333" font-size="17.5" x="817" y="863">blood-pressure</text></g>
<g id="D-consumption"><circle class="nr" cx="919" cy="853" r="10"/><text class="sd" x="919" y="876">consumption</text></g>
<g id="D-insights"><circle class="no" cx="1323" cy="836" r="10"/><text class="sd" x="1323" y="858">insights</text></g>
<g id="D-obesity"><circle class="ng" cx="1249" cy="845" r="10"/><text class="sd" x="1249" y="867">obesity</text></g>
<g id="D-risk"><circle class="nn" cx="1083" cy="849" r="20"/><text class="k" font-size="26" x="1084" y="887">risk</text></g>
<g id="D-insulin-resistance"><circle class="nn" cx="1010" cy="867" r="11"/><text class="sd" x="1010" y="888">insulin-resistance</text></g>
<g id="D-hypertension"><circle class="ny" cx="1180" cy="863" r="11"/><text class="sd" x="1180" y="887">hypertension</text></g>
<g id="D-common-variants"><circle class="nk" cx="844" cy="884" r="10"/><text class="sd" x="844" y="906">common variants</text></g>
<g id="D-associations"><circle class="ng" cx="1279" cy="885" r="10"/><text class="sd" x="1279" y="906">associations</text></g>
<g id="D-artery-disease"><circle class="nn" cx="930" cy="907" r="10"/><text class="sd" x="930" y="927">artery-disease</text></g>
<g id="D-loci"><circle class="nn" cx="1025" cy="907" r="10"/><text class="sd" x="1025" y="927">loci</text></g>
<g id="D-cardiovascular-disease"><circle class="nn" cx="1082" cy="921" r="17"/><text fill="#111" font-size="24.5" x="1082" y="955">cardiovascular-disease</text></g>
<g id="D-stroke"><circle class="ng" cx="1183" cy="909" r="10"/><text class="sd" x="1183" y="930">stroke</text></g>
<g id="D-adiposity"><circle class="ng" cx="1250" cy="927" r="10"/><text class="sd" x="1250" y="948">adiposity</text></g>
<g id="D-atrial-fibrillation"><circle class="nb" cx="903" cy="947" r="10"/><text class="sd" x="903" y="969">atrial-fibrillation</text></g>
<g id="D-men"><circle class="np" cx="1039" cy="970" r="10"/><text class="sd" x="1039" y="991">men</text></g>
<g id="D-atherosclerosis"><circle class="np" cx="1126" cy="968" r="10"/><text class="sd" x="1126" y="990">atherosclerosis</text></g>
<g id="D-outcomes"><circle class="nt" cx="1212" cy="972" r="10"/><text class="sd" x="1212" y="993">outcomes</text></g>
<g id="D-risk-factor"><circle class="nb" cx="962" cy="986" r="10"/><text class="sd" x="962" y="1008">risk-factor</text></g>
<g id="D-women"><circle class="np" cx="1073" cy="1003" r="10"/><text class="sd" x="1073" y="1024">women</text></g>
</g>
</svg>
